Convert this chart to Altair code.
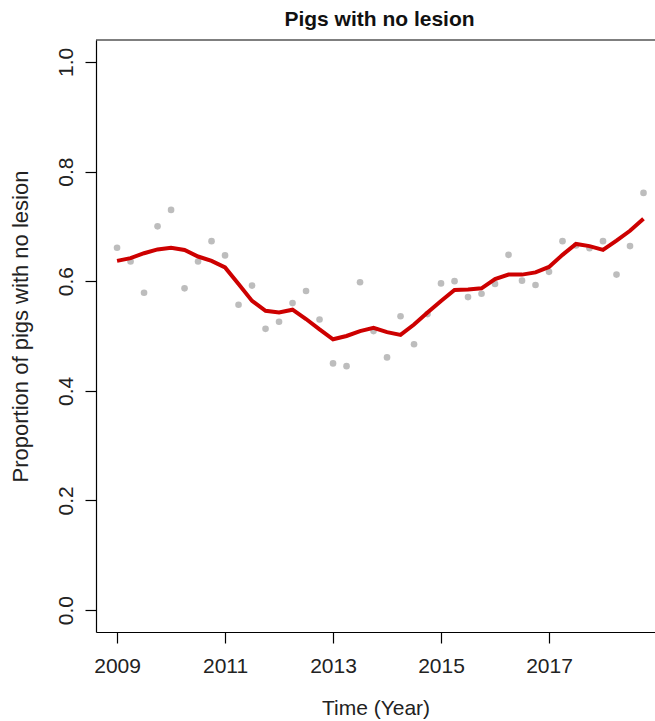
import altair as alt
import pandas as pd

# Quarterly sampling times (decimal years)
quarters = [
    2009.00, 2009.25, 2009.50, 2009.75, 2010.00, 2010.25, 2010.50, 2010.75,
    2011.00, 2011.25, 2011.50, 2011.75, 2012.00, 2012.25, 2012.50, 2012.75,
    2013.00, 2013.25, 2013.50, 2013.75, 2014.00, 2014.25, 2014.50, 2014.75,
    2015.00, 2015.25, 2015.50, 2015.75, 2016.00, 2016.25, 2016.50, 2016.75,
    2017.00, 2017.25, 2017.50, 2017.75, 2018.00, 2018.25, 2018.50, 2018.75,
]

# Observed proportion of pigs with no lesion
observed = [
    0.661, 0.636, 0.579, 0.700, 0.730, 0.587, 0.636, 0.673,
    0.647, 0.557, 0.592, 0.513, 0.526, 0.560, 0.582, 0.530,
    0.450, 0.445, 0.598, 0.509, 0.461, 0.536, 0.485, 0.540,
    0.596, 0.600, 0.571, 0.577, 0.595, 0.648, 0.601, 0.593,
    0.617, 0.673, 0.665, 0.660, 0.673, 0.612, 0.664, 0.761,
]

# Smoothed trend
trend = [
    0.637, 0.642, 0.651, 0.658, 0.661, 0.657, 0.645, 0.637,
    0.625, 0.595, 0.564, 0.546, 0.543, 0.548, 0.531, 0.512,
    0.494, 0.500, 0.509, 0.515, 0.507, 0.502, 0.521, 0.543,
    0.564, 0.584, 0.585, 0.587, 0.604, 0.612, 0.612, 0.616,
    0.626, 0.648, 0.668, 0.664, 0.657, 0.674, 0.692, 0.714,
]

year_ticks = [2009, 2011, 2013, 2015, 2017]
prop_ticks = [0.0, 0.2, 0.4, 0.6, 0.8, 1.0]
chart_title = "Pigs with no lesion"

df = pd.DataFrame({"t": quarters, "obs": observed, "fit": trend})

FONT = "Liberation Sans"
W, H = 559, 592

x_scale = alt.Scale(domain=[2008.61, 2018.963], nice=False, zero=False)
y_scale = alt.Scale(domain=[-0.04, 1.04], nice=False, zero=False)

x_axis = alt.Axis(
    values=year_ticks, format="d", grid=False,
    domainColor="black", domainWidth=1.2, tickColor="black", tickWidth=1.2,
    tickSize=11, labelFont=FONT, labelFontSize=21, labelColor="#222222",
    labelPadding=12, labelBaseline="top", labelFlush=False,
    title="Time (Year)", titleFont=FONT, titleFontSize=21, titleFontWeight="normal",
    titleColor="#222222", titleBaseline="alphabetic", titleX=W / 2, titleY=82,
    titleAnchor="middle",
)

y_axis = alt.Axis(
    values=prop_ticks, format=".1f", grid=False,
    domainColor="black", domainWidth=1.2, tickColor="black", tickWidth=1.2,
    tickSize=11, labelFont=FONT, labelFontSize=21, labelColor="#222222",
    labelAngle=270, labelAlign="center", labelBaseline="alphabetic",
    labelPadding=13, labelFlush=False,
    title="Proportion of pigs with no lesion", titleFont=FONT, titleFontSize=22,
    titleFontWeight="normal", titleColor="#222222", titleAngle=270,
    titleAlign="center", titleBaseline="alphabetic", titleX=-69, titleY=286,
)

base = alt.Chart(df)

points = base.mark_circle(size=44, color="#BDBDBD", opacity=1).encode(
    x=alt.X("t:Q", scale=x_scale, axis=x_axis),
    y=alt.Y("obs:Q", scale=y_scale, axis=y_axis),
)

line = base.mark_line(color="#CD0000", strokeWidth=4).encode(
    x=alt.X("t:Q", scale=x_scale),
    y=alt.Y("fit:Q", scale=y_scale),
)

# Top edge of the plot frame
top_edge = alt.Chart(pd.DataFrame({"a": [0]})).mark_rule(
    color="black", strokeWidth=1.2
).encode(y=alt.value(0), x=alt.value(0), x2=alt.value(W))

# Bold heading above the frame
heading = alt.Chart(pd.DataFrame({"label": [chart_title]})).mark_text(
    font=FONT, fontSize=21, fontWeight="bold", color="#111111",
    align="center", baseline="alphabetic",
).encode(text="label:N", x=alt.value(W / 2 + 4), y=alt.value(-14))

chart = (
    alt.layer(points, line, top_edge, heading)
    .properties(
        width=W,
        height=H,
        autosize=alt.AutoSizeParams(type="none"),
        padding={"left": 96, "top": 40, "right": 0, "bottom": 89},
        background="white",
    )
    .configure_view(stroke=None)
)

chart.save("out.html", embed_options={"renderer": "svg", "actions": False})
